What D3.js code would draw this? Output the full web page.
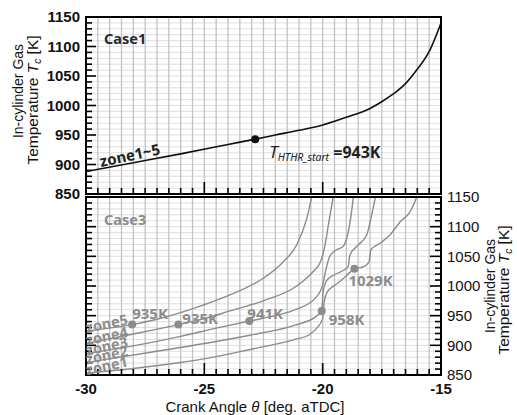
<!DOCTYPE html>
<html><head><meta charset="utf-8">
<script src="https://cdn.jsdelivr.net/npm/d3@7"></script>
<style>
body{margin:0;background:#fff;}
svg{display:block;}
</style></head>
<body>
<svg id="chart" width="517" height="415"></svg>
<script>
// ---------- DATA ----------
const xTickValues = [-30, -25, -20, -15];
const yTickValues = [850, 900, 950, 1000, 1050, 1100, 1150];

// Case1: all zones identical
const case1Curve = [[-30,888],[-28,903],[-26,918],[-24,934],[-22.85,943],[-22,950],[-21,958],[-20,967],[-19,980],[-18,995],[-17.44,1008],[-17,1020],[-16.5,1037],[-16.03,1060],[-15.47,1094],[-15,1140]];
const case1Marker = [-22.85, 943];

// Case3: five zones
const zoneNames = ["zone1","zone2","zone3","zone4","zone5"];
const zone1 = [[-30,853],[-28,861],[-26,871],[-24.9,878],[-23.07,893],[-21.17,910],[-20.6,917],[-20.25,929],[-20.0,945],[-19.93,975],[-19.8,990],[-19.5,1001],[-19.2,1010],[-18.85,1023],[-18.66,1029],[-18.3,1032],[-18.05,1040],[-17.95,1062],[-17.58,1072],[-17.16,1086],[-16.73,1108],[-16.31,1125],[-15.94,1158]];
const zone2 = [[-30,871],[-27,890],[-25,903],[-23.07,917],[-21.17,934],[-20.3,948],[-20.04,958],[-19.98,990],[-19.85,1008],[-19.5,1019],[-19.1,1027],[-18.92,1033],[-18.85,1052],[-18.5,1069],[-18.14,1086],[-17.93,1120],[-17.73,1158]];
const zone3 = [[-30,886],[-28,899],[-26,915],[-24.5,929],[-23.1,941],[-22,950],[-21.1,961],[-20.3,980],[-20.0,1002],[-19.85,1030],[-19.7,1050],[-19.41,1061],[-19.13,1067],[-18.92,1091],[-18.78,1125],[-18.68,1158]];
const zone4 = [[-30,903],[-28,919],[-26.1,935],[-24.9,946],[-23.92,958],[-22.51,975],[-21.1,1000],[-20.46,1022],[-20.1,1040],[-19.9,1069],[-19.76,1103],[-19.52,1158]];
const zone5 = [[-30,924],[-29,929],[-28.05,935],[-27,944],[-26,955],[-25.18,966],[-23.92,985],[-22.51,1013],[-21.66,1041],[-21.1,1069],[-20.67,1114],[-20.42,1158]];
const zoneCurves = [zone1, zone2, zone3, zone4, zone5];

// HTHR start points per zone (x, T)
const hthrX = [-18.66, -20.04, -23.1, -26.1, -28.05];
const hthrT = [1029, 958, 941, 935, 935];
const hthrLabels = ["1029K", "958K", "941K", "935K", "935K"];

// ---------- LAYOUT / STYLE ----------
const labelOffsets = [[-6,17],[7,14],[-2,-2],[4,-1],[0,-6]];
const svg = d3.select("#chart");
const X0 = 86, X1 = 441;
const x = d3.scaleLinear().domain([-30,-15]).range([X0, X1]);
const yTop = d3.scaleLinear().domain([850,1150]).range([194,17]);
const yBot = d3.scaleLinear().domain([850,1150]).range([375,197]);
const grey = "#8c8c8c";
const annFont = "'Noto Sans', 'Open Sans', sans-serif";
const axFont = "'Liberation Sans', Arial, sans-serif";

const minorX = d3.range(-30, -14.99, 0.5);
const minorY = d3.range(850, 1150.1, 10);
const majorXInner = [-25, -20];

function panel(y, id) {
  const g = svg.append("g");
  g.append("rect").attr("x", X0).attr("y", y.range()[1]).attr("width", X1-X0).attr("height", y.range()[0]-y.range()[1]).attr("fill", "#fff");
  g.selectAll(".hg").data(minorY).join("line")
    .attr("x1", X0).attr("x2", X1).attr("y1", d=>y(d)).attr("y2", d=>y(d))
    .attr("stroke", "#e0e0e0").attr("stroke-width", 1);
  g.selectAll(".vg").data(minorX).join("line")
    .attr("x1", d=>x(d)).attr("x2", d=>x(d)).attr("y1", y.range()[1]).attr("y2", y.range()[0])
    .attr("stroke", "#c2c2c2").attr("stroke-width", 1.3);
  svg.append("clipPath").attr("id", id).append("rect")
    .attr("x", X0).attr("y", y.range()[1]).attr("width", X1-X0).attr("height", y.range()[0]-y.range()[1]);
  return g;
}

function ticks(y, left, right) {
  const g = svg.append("g");
  const yb = y.range()[0];
  g.selectAll(".bt").data(minorX.filter(d=>d>-30 && d<-15)).join("line")
    .attr("x1", d=>x(d)).attr("x2", d=>x(d)).attr("y1", yb)
    .attr("y2", d=> majorXInner.includes(d) ? yb-12 : yb-6)
    .attr("stroke", "#000").attr("stroke-width", 1.6);
  const yt = minorY.filter(d=>d>850 && d<1150);
  if (left) {
    g.selectAll(".lt").data(yt).join("line")
      .attr("x1", X0).attr("x2", d=> d%50===0 ? X0+10 : X0+6)
      .attr("y1", d=>y(d)).attr("y2", d=>y(d))
      .attr("stroke", "#000").attr("stroke-width", 1.6);
  }
  if (right) {
    g.selectAll(".rt").data(yt).join("line")
      .attr("x1", X1).attr("x2", d=> d%50===0 ? X1-11 : X1-6)
      .attr("y1", d=>y(d)).attr("y2", d=>y(d))
      .attr("stroke", "#000").attr("stroke-width", 1.6);
  }
  g.append("rect").attr("x", X0).attr("y", y.range()[1]).attr("width", X1-X0).attr("height", y.range()[0]-y.range()[1])
    .attr("fill", "none").attr("stroke", "#000").attr("stroke-width", 2);
}

const line = (y) => d3.line().x(d=>x(d[0])).y(d=>y(d[1])).curve(d3.curveMonotoneX);

// ---------- TOP PANEL ----------
panel(yTop, "clipTop");
svg.append("path").datum(case1Curve).attr("d", line(yTop)).attr("clip-path","url(#clipTop)")
  .attr("fill","none").attr("stroke","#111").attr("stroke-width",1.6);
svg.append("circle").attr("cx", x(case1Marker[0])).attr("cy", yTop(case1Marker[1])).attr("r", 4).attr("fill", "#111");
ticks(yTop, true, false);

svg.append("text").attr("x", 104).attr("y", 44).text("Case1")
  .attr("font-family", annFont).attr("font-weight", "bold").attr("font-size", 14.5).attr("fill", "#2a2a2a");
svg.append("text").attr("transform", "translate(101,167) rotate(-12)").text("zone1~5")
  .attr("font-family", annFont).attr("font-weight", "bold").attr("font-size", 15).attr("fill", "#222");
const tl = svg.append("text").attr("x", x(case1Marker[0]) + 14).attr("y", yTop(case1Marker[1]) + 19)
  .attr("font-family", annFont).attr("fill", "#222");
tl.append("tspan").text("T").attr("font-style","italic").attr("font-size", 17);
tl.append("tspan").text("HTHR_start").attr("font-style","italic").attr("font-size", 10.5).attr("dy", 3);
tl.append("tspan").text(" =" + case1Marker[1] + "K").attr("font-weight","bold").attr("font-size", 16).attr("dy", -3);

svg.append("g").selectAll("text").data(yTickValues).join("text")
  .attr("x", 80).attr("y", d=>yTop(d)).attr("dy", "0.36em").attr("text-anchor", "end")
  .attr("font-family", axFont).attr("font-weight","bold").attr("font-size", 15).attr("fill","#111")
  .text(d=>d);

// ---------- BOTTOM PANEL ----------
panel(yBot, "clipBot");
const zg = svg.append("g").attr("clip-path","url(#clipBot)");
zg.selectAll("path").data(zoneCurves).join("path")
  .attr("d", line(yBot)).attr("fill","none").attr("stroke", grey).attr("stroke-width", 1.4);
ticks(yBot, true, true);

svg.append("g").selectAll("text").data(zoneNames).join("text")
  .attr("transform", (d,i)=>`translate(${X0+1},${yBot(zoneCurves[i][0][1])+2}) rotate(-12)`)
  .attr("font-family", annFont).attr("font-weight","bold").attr("font-size", 14.5).attr("fill", grey)
  .text(d=>d);

svg.append("g").selectAll("circle").data(hthrX).join("circle")
  .attr("cx", d=>x(d)).attr("cy", (d,i)=>yBot(hthrT[i])).attr("r", 4).attr("fill", grey);
svg.append("g").selectAll("text").data(hthrLabels).join("text")
  .attr("x", (d,i)=>x(hthrX[i]) + labelOffsets[i][0])
  .attr("y", (d,i)=>yBot(hthrT[i]) + labelOffsets[i][1])
  .attr("font-family", annFont).attr("font-weight","bold").attr("font-size", 15).attr("fill", grey)
  .text(d=>d);

svg.append("text").attr("x", 104).attr("y", 225).text("Case3")
  .attr("font-family", annFont).attr("font-weight", "bold").attr("font-size", 14.5).attr("fill", grey);

svg.append("g").selectAll("text").data(yTickValues).join("text")
  .attr("x", 447).attr("y", d=>yBot(d)).attr("dy", "0.36em").attr("text-anchor", "start")
  .attr("font-family", axFont).attr("font-size", 15).attr("fill","#111")
  .text(d=>d);

svg.append("g").selectAll("text").data(xTickValues).join("text")
  .attr("x", d=>x(d)).attr("y", 394).attr("text-anchor","middle")
  .attr("font-family", axFont).attr("font-weight","bold").attr("font-size", 15).attr("fill","#111")
  .text(d=>d);

const xt = svg.append("text").attr("x", 255).attr("y", 412).attr("text-anchor","middle")
  .attr("font-family", axFont).attr("font-size", 15).attr("fill","#111");
xt.append("tspan").text("Crank Angle ");
xt.append("tspan").text("θ").attr("font-style","italic");
xt.append("tspan").text(" [deg. aTDC]");

function yTitle(cx1, cy1, cx2, cy2) {
  svg.append("text").attr("transform", `translate(${cx1},${cy1}) rotate(-90)`).attr("text-anchor","middle")
    .attr("font-family", axFont).attr("font-size", 14).attr("fill","#111").text("In-cylinder Gas");
  const t = svg.append("text").attr("transform", `translate(${cx2},${cy2}) rotate(-90)`).attr("text-anchor","middle")
    .attr("font-family", axFont).attr("font-size", 15.5).attr("fill","#111");
  t.append("tspan").text("Temperature ");
  t.append("tspan").text("T").attr("font-style","italic");
  t.append("tspan").text("c").attr("font-style","italic").attr("font-size", 10).attr("dy", 3);
  t.append("tspan").text(" [K]").attr("dy", -3);
}
yTitle(23, 91, 38, 100);
yTitle(495, 286, 509, 290);
</script>
</body></html>
